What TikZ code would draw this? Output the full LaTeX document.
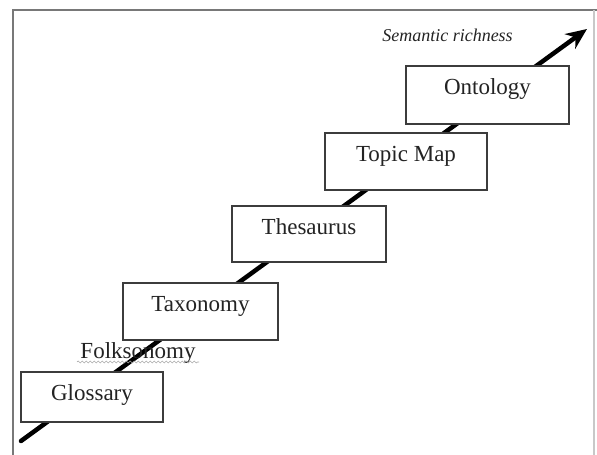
\documentclass[tikz,border=0pt]{standalone}
\usepackage{fontspec}
\setmainfont{Liberation Serif}
\usetikzlibrary{arrows.meta,decorations.pathmorphing,calc}
\definecolor{framegray}{RGB}{120,120,120}
\definecolor{edgegray}{RGB}{200,200,200}
\definecolor{boxgray}{RGB}{60,60,60}
\definecolor{inkgray}{RGB}{35,35,35}
\definecolor{squiggle}{RGB}{170,170,170}
\tikzset{>=stealth}
\tikzset{%
    level/.style={%
        draw=boxgray, line width=1.4pt, fill=white, inner sep=0pt,
        text height=28pt, text=inkgray,
        font=\fontsize{23pt}{25pt}\selectfont
    },
    richness/.style={%
        line width=4.5pt, line cap=round,
        -{Stealth[length=21pt,width=18pt]}
    }
}

\begin{document}
\begin{tikzpicture}[x=1pt,y=-1pt]
    \useasboundingbox (0,0) rectangle (597,455);
    \draw[framegray,line width=1.6pt] (13,455)--(13,10)--(597,10);
    \draw[edgegray,line width=1.2pt] (594,10)--(594,455);

    \coordinate (lo) at (21,441);
    \coordinate (hi) at (587,29);
    \draw[richness] (lo) -- (hi);

    \node[level, minimum width=142pt, text depth=22pt] (gloss) at (92,397) {Glossary};
    \node[level, minimum width=155pt, text depth=29pt] (taxo) at (200.5,311.5) {Taxonomy};
    \node[level, minimum width=154pt, text depth=28pt] (thes) at (309,234) {Thesaurus};
    \node[level, minimum width=162pt, text depth=29pt] (topic) at (406,161.5) {Topic Map};
    \node[level, minimum width=163pt, text depth=30pt] (onto) at (487.5,95) {Ontology};

    \node[anchor=base, text=inkgray, font=\fontsize{23pt}{25pt}\selectfont] (folk) at (138,358) {Folksonomy};
    \draw[squiggle, line width=0.6pt, decorate, decoration={snake,segment length=4pt,amplitude=1pt}]
        ($(folk.base west)+(0,4)$) -- ($(folk.base east)+(0,4)$);

    \node[anchor=base, text=inkgray, font=\itshape\fontsize{18pt}{20pt}\selectfont] (sem) at (447.5,41.5) {Semantic richness};
\end{tikzpicture}
\end{document}
